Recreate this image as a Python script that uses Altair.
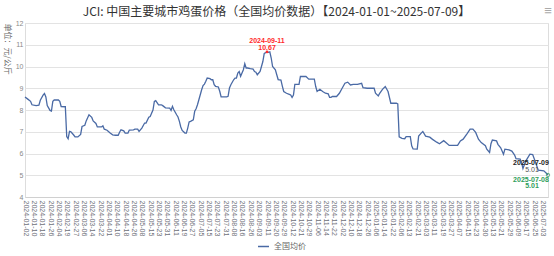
import altair as alt
import pandas as pd

# ---------------- data ----------------
tick_dates = [
    "2024-01-02", "2024-01-10", "2024-01-18", "2024-01-26", "2024-02-04", "2024-02-19",
    "2024-02-27", "2024-03-06", "2024-03-14", "2024-03-22", "2024-04-01", "2024-04-10",
    "2024-04-18", "2024-04-26", "2024-05-08", "2024-05-15", "2024-05-23", "2024-05-31",
    "2024-06-11", "2024-06-19", "2024-06-27", "2024-07-05", "2024-07-15", "2024-07-23",
    "2024-07-31", "2024-08-08", "2024-08-16", "2024-08-26", "2024-09-03", "2024-09-11",
    "2024-09-20", "2024-09-29", "2024-10-12", "2024-10-21", "2024-10-29", "2024-11-06",
    "2024-11-14", "2024-11-22", "2024-12-02", "2024-12-10", "2024-12-18", "2024-12-26",
    "2025-01-06", "2025-01-14", "2025-01-22", "2025-02-06", "2025-02-13", "2025-02-21",
    "2025-03-03", "2025-03-11", "2025-03-19", "2025-03-27", "2025-04-07", "2025-04-15",
    "2025-04-23", "2025-04-30", "2025-05-13", "2025-05-21", "2025-05-29", "2025-06-09",
    "2025-06-17", "2025-06-25", "2025-07-03",
]

idx = [
    0, 2, 4, 5, 8, 10, 11, 13, 14, 15, 16, 18, 19, 20, 21, 24, 25, 26, 29, 30,
    31, 32, 33, 35, 36, 38, 40, 41, 43, 44, 46, 48, 49, 51, 52, 55, 56, 57, 59, 61,
    63, 65, 67, 68, 69, 71, 72, 74, 75, 78, 79, 81, 82, 84, 86, 87, 89, 90, 92, 93,
    94, 96, 98, 99, 101, 104, 105, 106, 107, 109, 110, 111, 112, 113, 115, 116, 117, 118, 119, 121,
    122, 123, 124, 125, 127, 128, 129, 130, 131, 133, 134, 135, 136, 137, 139, 140, 141, 145, 146, 147,
    148, 150, 151, 152, 153, 154, 155, 157, 158, 159, 160, 162, 164, 165, 166, 167, 169, 170, 171, 172,
    174, 175, 176, 177, 178, 180, 181, 182, 184, 185, 186, 188, 190, 191, 192, 193, 194, 197, 198, 202,
    204, 208, 209, 210, 212, 214, 216, 218, 219, 220, 221, 224, 226, 228, 230, 232, 234, 236, 239, 242,
    243, 246, 251, 252, 254, 255, 257, 259, 261, 263, 267, 268, 269, 271, 273, 274, 277, 278, 279, 282,
    283, 285, 286, 288, 291, 293, 296, 298, 301, 303, 305, 311, 313, 315, 318, 320, 322, 324, 326, 328,
    331, 332, 334, 335, 336, 339, 340, 342, 344, 345, 348, 350, 352, 353, 356, 357, 358, 360, 363, 365,
    367, 369, 373, 375, 376,
]

price = [
    8.60, 8.50, 8.40, 8.24, 8.20, 8.22, 8.45, 8.68, 8.76, 8.60, 8.20, 7.98, 7.95, 8.40, 8.46, 8.46, 8.40, 8.16, 8.15, 6.78,
    6.68, 7.02, 7.00, 6.85, 6.76, 6.76, 6.88, 7.24, 7.30, 7.50, 7.78, 7.66, 7.50, 7.38, 7.22, 7.22, 7.27, 7.12, 7.07, 6.95,
    6.86, 6.84, 6.84, 6.98, 7.09, 7.04, 6.94, 6.94, 7.08, 7.09, 7.12, 7.12, 7.02, 7.17, 7.40, 7.40, 7.67, 7.70, 8.00, 8.39,
    8.43, 8.24, 8.24, 8.20, 8.10, 8.09, 7.98, 8.17, 8.01, 7.78, 7.68, 7.48, 7.22, 7.06, 6.94, 6.94, 7.17, 7.45, 7.48, 7.55,
    7.94, 8.06, 8.24, 8.47, 8.93, 9.12, 9.19, 9.32, 9.47, 9.44, 9.39, 9.39, 9.16, 9.09, 9.06, 8.86, 8.60, 8.60, 8.63, 9.01,
    9.16, 9.39, 9.47, 9.47, 9.70, 9.77, 9.55, 9.85, 10.13, 9.93, 9.93, 9.90, 9.88, 9.77, 9.74, 9.62, 9.77, 10.00, 10.23, 10.60,
    10.67, 10.65, 10.67, 10.39, 10.00, 9.85, 9.62, 9.40, 9.38, 9.10, 8.85, 8.77, 8.72, 8.69, 8.58, 8.69, 9.18, 9.18, 9.54, 9.54,
    9.42, 9.42, 9.08, 8.85, 8.95, 8.85, 8.77, 8.74, 8.58, 8.58, 8.62, 8.62, 8.77, 9.00, 9.23, 9.28, 9.15, 9.18, 9.18, 9.23,
    9.03, 9.00, 9.00, 8.77, 8.65, 8.77, 8.95, 9.08, 8.85, 8.31, 8.31, 8.28, 6.77, 6.70, 6.68, 6.78, 6.78, 6.35, 6.21, 6.20,
    6.80, 6.95, 7.01, 6.80, 6.75, 6.65, 6.52, 6.45, 6.59, 6.48, 6.37, 6.37, 6.58, 6.66, 6.93, 7.12, 7.12, 6.97, 6.66, 6.50,
    6.36, 6.20, 6.05, 6.45, 6.62, 6.58, 6.42, 6.26, 5.96, 6.20, 6.17, 6.11, 5.93, 5.76, 5.74, 5.58, 5.31, 5.65, 5.97, 5.95,
    5.60, 5.23, 5.20, 5.08, 5.01,
]

series_name = "全国均价"
title_text = "JCI: 中国主要城市鸡蛋价格（全国均价数据）【2024-01-01~2025-07-09】"
y_title = "单位：元/公斤"
max_point = {"idx": [174], "price": [10.67], "date": ["2024-09-11"], "val": ["10.67"]}
last_point = {"idx": [376], "price": [5.01], "date": ["2025-07-09"], "val": ["5.01"],
              "prev_date": ["2025-07-08"], "prev_val": ["5.01"]}

# ---------------- chart ----------------
df = pd.DataFrame({"idx": idx, "price": price, "series": series_name})
df_max = pd.DataFrame(max_point)
df_last = pd.DataFrame(last_point)

LINE_COLOR = "#4a6aa5"
FONT = "Noto Sans CJK SC"
NUM_FONT = "Liberation Sans"

label_js = "[" + ",".join(f"'{d}'" for d in tick_dates) + "]"
x_scale = alt.Scale(domain=[0, 376], nice=False, zero=False)
y_scale = alt.Scale(domain=[4, 12], nice=False, zero=False)

x_axis = alt.Axis(
    values=list(range(0, 373, 6)),
    labelExpr=f"{label_js}[round(datum.value / 6)]",
    labelAngle=90, labelAlign="left", labelBaseline="middle",
    labelFontSize=7, labelColor="#6e7079", labelFont=NUM_FONT, labelPadding=3,
    labelOverlap=False, labelBound=False, labelFlush=False,
    grid=False, ticks=False, domainColor="#d0d0d0", title=None,
)
y_axis = alt.Axis(
    values=list(range(4, 13)),
    labelFontSize=7, labelColor="#8a8a8a", labelFont=NUM_FONT, labelPadding=2,
    labelOverlap=False,
    ticks=False, domain=False, gridColor="#e3e3e3", gridWidth=1,
    title=y_title, titleAngle=90, titleAlign="left", titleBaseline="middle",
    titleX=-19, titleY=0, titleFontSize=8, titleFontWeight="normal",
    titleColor="#666", titleFont=FONT,
)


def X():
    return alt.X("idx:Q", scale=x_scale, axis=x_axis)


def Y():
    return alt.Y("price:Q", scale=y_scale, axis=y_axis)


line = alt.Chart(df).mark_line(strokeWidth=1.3).encode(
    x=X(), y=Y(),
    color=alt.Color(
        "series:N", scale=alt.Scale(range=[LINE_COLOR]),
        legend=alt.Legend(
            title=None, orient="none", legendX=232, legendY=217,
            symbolType="stroke", symbolStrokeWidth=1.5, symbolSize=120,
            labelFontSize=8, labelColor="#666", labelFont=FONT,
        ),
    ),
)

max_dot = alt.Chart(df_max).mark_point(filled=True, color="#ff2a2a", size=8, opacity=1).encode(
    x=X(), y=Y())
max_date = alt.Chart(df_max).mark_text(color="#ff2a2a", fontSize=7, fontWeight="bold",
                                       font=NUM_FONT, dy=-11).encode(x=X(), y=Y(), text="date:N")
max_val = alt.Chart(df_max).mark_text(color="#ff2a2a", fontSize=7, fontWeight="bold",
                                      font=NUM_FONT, dy=-4).encode(x=X(), y=Y(), text="val:N")

last_dot = alt.Chart(df_last).mark_point(filled=False, color="#2e9e5b", size=12, strokeWidth=1).encode(
    x=X(), y=Y())
last_date = alt.Chart(df_last).mark_text(color="#222", fontSize=7, fontWeight="bold",
                                         font=NUM_FONT, dx=-17, dy=-12).encode(x=X(), y=Y(), text="date:N")
last_val = alt.Chart(df_last).mark_text(color="#555", fontSize=7,
                                        font=NUM_FONT, dx=-16, dy=-5).encode(x=X(), y=Y(), text="val:N")
prev_date = alt.Chart(df_last).mark_text(color="#2e9e5b", fontSize=7, fontWeight="bold",
                                         font=NUM_FONT, dx=-17, dy=5).encode(x=X(), y=Y(), text="prev_date:N")
prev_val = alt.Chart(df_last).mark_text(color="#2e9e5b", fontSize=7, fontWeight="bold",
                                        font=NUM_FONT, dx=-16, dy=11).encode(x=X(), y=Y(), text="prev_val:N")

title = alt.Chart(pd.DataFrame({"t": [title_text]})).mark_text(
    color="#333", fontSize=12, font=FONT, align="center", baseline="middle"
).encode(x=alt.value(251.5), y=alt.value(-11), text="t:N")

menu = alt.Chart(pd.DataFrame({"t": ["≡"]})).mark_text(
    color="#aaaaaa", fontSize=13, align="center", baseline="middle"
).encode(x=alt.value(523), y=alt.value(-12), text="t:N")

chart = alt.layer(
    line, max_dot, max_date, max_val, last_dot, last_date, last_val, prev_date, prev_val, title, menu
).properties(
    width=523, height=174,
    autosize=alt.AutoSizeParams(type="none"),
    padding={"left": 25, "top": 23, "right": 6, "bottom": 59},
).configure_view(stroke=None).configure(background="white")

chart.save("out.html", embed_options={"renderer": "svg", "actions": False})
